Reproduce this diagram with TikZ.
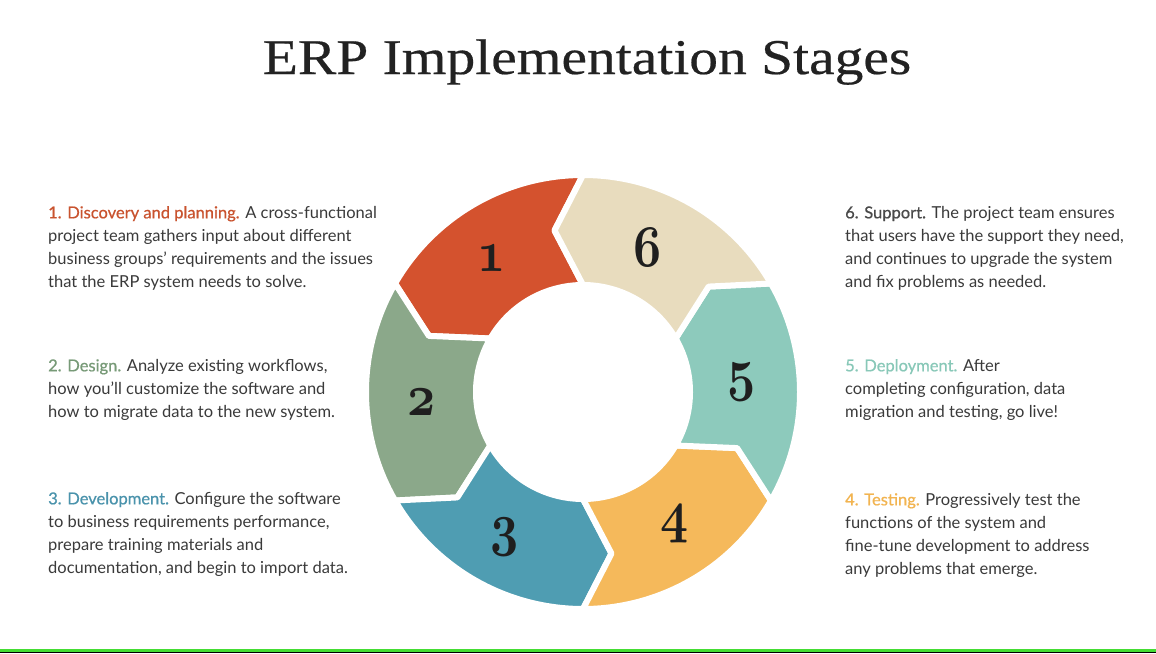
\documentclass[tikz,border=0pt]{standalone}
\usepackage{fontspec}
\setsansfont{Lato}
\newfontfamily\titlefont{Liberation Serif}[FakeBold=0.4]
\newfontfamily\headfont{Lato}[FakeBold=0.6]
\newcommand\osnum{\fontencoding{OML}\fontfamily{cmm}\fontseries{b}\fontshape{it}\fontsize{10}{10}\selectfont}
\newcommand\bignum[1]{\scalebox{4.9}[5.9]{#1}}
\definecolor{segA}{HTML}{D4522E}
\definecolor{segB}{HTML}{8BA88A}
\definecolor{segC}{HTML}{4F9DB2}
\definecolor{segD}{HTML}{F5B95B}
\definecolor{segE}{HTML}{8DCABC}
\definecolor{segF}{HTML}{E8DCBE}
\definecolor{hA}{HTML}{C9532F}
\definecolor{hB}{HTML}{779A77}
\definecolor{hC}{HTML}{4A93AC}
\definecolor{hD}{HTML}{F2B450}
\definecolor{hE}{HTML}{88C8B8}
\definecolor{hF}{HTML}{4A4A4A}
\definecolor{bodygray}{HTML}{3A3A3A}
\definecolor{titlegray}{HTML}{222222}
\definecolor{bargreen}{HTML}{44DD33}
\tikzset{
  txt/.style={font=\sffamily\fontsize{16.5}{23}\selectfont, text=bodygray, align=left, inner sep=0pt, anchor=north west},
  numlbl/.style={font=\osnum, text=black!88, inner sep=0pt, anchor=center},
  segment/.style={draw=white, line width=6pt, line join=round}
}
\begin{document}
\begin{tikzpicture}[x=1pt,y=-1pt]
\useasboundingbox (0,0) rectangle (1156,653);
\fill[white] (0,0) rectangle (1156,653);
\fill[bargreen] (0,648.5) rectangle (1156,651.5);
\fill[black] (0,651.5) rectangle (1156,653);

\node[anchor=base, font=\titlefont\fontsize{50}{50}\selectfont, text=titlegray, inner sep=0pt] (title) at (587,74) {\scalebox{1.15}[1]{ERP Implementation Stages}};

\begin{scope}[shift={(583,392)}, yscale=-1]
\foreach \a/\col in {90/segA, 150/segB, 210/segC, 270/segD, 330/segE, 30/segF} {
  \pgfmathsetmacro\b{\a+60}
  \fill[\col, segment]
    (\a:217) arc[start angle=\a, end angle=\b, radius=217]
    -- ({\b+10}:164) -- (\b:107)
    arc[start angle=\b, end angle=\a, radius=107]
    -- ({\a+10}:164) -- cycle;
}
\end{scope}

\node[numlbl] (n1) at (492,258) {\bignum{1}};
\node[numlbl] (n2) at (422,402) {\bignum{2}};
\node[numlbl] (n3) at (505,537) {\bignum{3}};
\node[numlbl] (n4) at (675,524) {\bignum{4}};
\node[numlbl] (n5) at (742,382) {\bignum{5}};
\node[numlbl] (n6) at (648,247) {\bignum{6}};

\node[txt] (d1) at (48,206) {{\headfont\color{hA}1. Discovery and planning.} A cross-functional\\ project team gathers input about different\\ business groups’ requirements and the issues\\ that the ERP system needs to solve.};
\node[txt] (d2) at (48,359) {{\headfont\color{hB}2. Design.} Analyze existing workflows,\\ how you’ll customize the software and\\ how to migrate data to the new system.};
\node[txt] (d3) at (48,492) {{\headfont\color{hC}3. Development.} Configure the software\\ to business requirements performance,\\ prepare training materials and\\ documentation, and begin to import data.};
\node[txt] (d6) at (845,206) {{\headfont\color{hF}6. Support.} The project team ensures\\ that users have the support they need,\\ and continues to upgrade the system\\ and fix problems as needed.};
\node[txt] (d5) at (845,359) {{\headfont\color{hE}5. Deployment.} After\\ completing configuration, data\\ migration and testing, go live!};
\node[txt] (d4) at (845,493) {{\headfont\color{hD}4. Testing.} Progressively test the\\ functions of the system and\\ fine-tune development to address\\ any problems that emerge.};
\end{tikzpicture}
\end{document}
